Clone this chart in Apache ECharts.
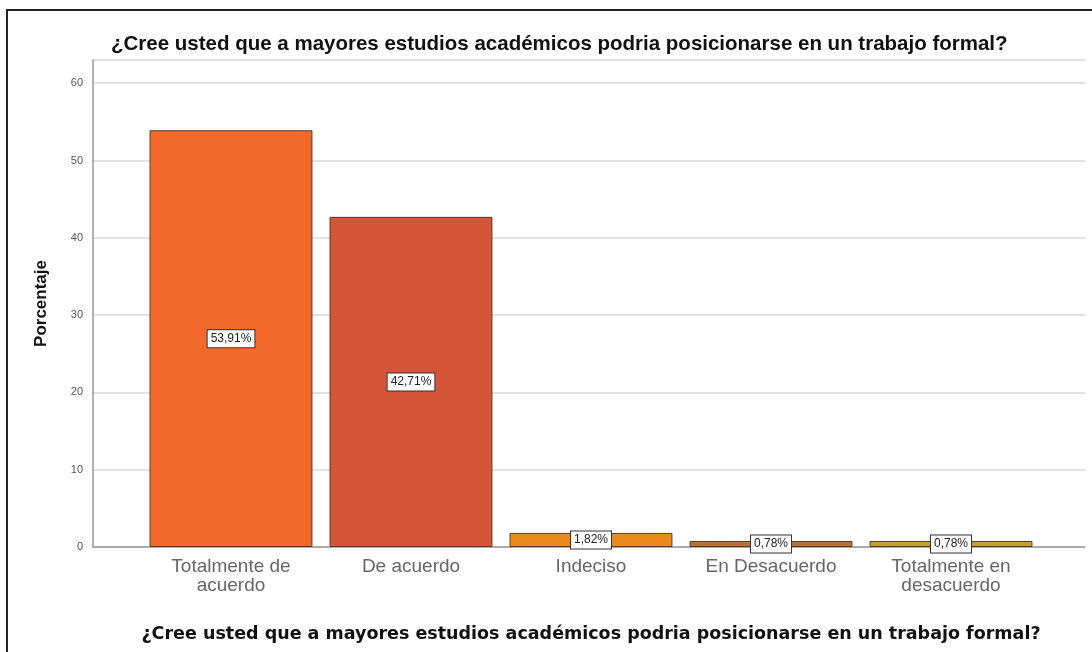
<!DOCTYPE html>
<html>
<head>
<meta charset="utf-8">
<script src="https://cdn.jsdelivr.net/npm/echarts@6/dist/echarts.min.js"></script>
<style>
html, body { margin: 0; padding: 0; background: #fff; }
#main { width: 1092px; height: 652px; }
</style>
</head>
<body>
<div id="main"></div>
<script>
var categories = ['Totalmente de\nacuerdo', 'De acuerdo', 'Indeciso', 'En Desacuerdo', 'Totalmente en\ndesacuerdo'];
var values = [53.91, 42.71, 1.82, 0.78, 0.78];
var barColors = ['#F2692B', '#D5553A', '#EA8C1C', '#B9713A', '#C6A02C'];
var titleText = '¿Cree usted que a mayores estudios académicos podria posicionarse en un trabajo formal?';

var chart = echarts.init(document.getElementById('main'));

var option = {
    animation: false,
    textStyle: { fontFamily: 'Liberation Sans, Arial, sans-serif' },
    title: {
        text: titleText,
        left: 106,
        top: 29,
        textStyle: { fontSize: 20.5, fontWeight: 'bold', color: '#111' }
    },
    graphic: [{
        type: 'rect',
        shape: { x: 7, y: 10, width: 1200, height: 700 },
        style: { fill: 'none', stroke: '#222', lineWidth: 2 },
        silent: true
    }],
    grid: [
        { left: 93, right: 7, top: 60, bottom: 105 },   // ejes y rejilla
        { left: 141, width: 900, top: 60, bottom: 105 } // barras
    ],
    xAxis: [
        {
            gridIndex: 0,
            type: 'value',
            min: 0, max: 1,
            axisLabel: { show: false },
            axisTick: { show: false },
            splitLine: { show: false },
            axisLine: { lineStyle: { color: '#999', width: 1.5 } }
        },
        {
            gridIndex: 1,
            type: 'category',
            data: categories,
            axisLine: { show: false },
            axisTick: { show: false },
            axisLabel: { color: '#666', fontSize: 19, lineHeight: 19, margin: 10 },
            name: titleText,
            nameLocation: 'middle',
            nameGap: 78,
            nameTextStyle: { fontSize: 17.5, fontWeight: 'bold', color: '#111', fontFamily: 'DejaVu Sans, sans-serif' }
        }
    ],
    yAxis: [
        {
            gridIndex: 0,
            type: 'value',
            min: 0, max: 63,
            interval: 10,
            name: 'Porcentaje',
            nameLocation: 'middle',
            nameGap: 43,
            nameTextStyle: { fontSize: 17, fontWeight: 'bold', color: '#111' },
            axisLabel: { color: '#555', fontSize: 11, margin: 10, showMaxLabel: false },
            axisTick: { show: false },
            axisLine: { show: true, lineStyle: { color: '#999', width: 1.5 } },
            splitLine: { lineStyle: { color: '#d9d9d9', width: 1.5 } }
        },
        {
            gridIndex: 1,
            type: 'value',
            min: 0, max: 63,
            show: false,
            splitLine: { show: false }
        }
    ],
    series: [{
        type: 'bar',
        xAxisIndex: 1,
        yAxisIndex: 1,
        barCategoryGap: '9.5%',
        data: values.map(function (v, i) {
            return { value: v, itemStyle: { color: barColors[i] } };
        }),
        itemStyle: { borderColor: '#5a3b2c', borderWidth: 1 },
        label: {
            show: true,
            position: 'inside',
            formatter: function (p) { return p.value.toFixed(2).replace('.', ',') + '%'; },
            color: '#222',
            fontSize: 12,
            backgroundColor: '#fff',
            borderColor: '#333',
            borderWidth: 1,
            padding: [3, 3, 2, 3]
        }
    }]
};

chart.setOption(option);
</script>
</body>
</html>
